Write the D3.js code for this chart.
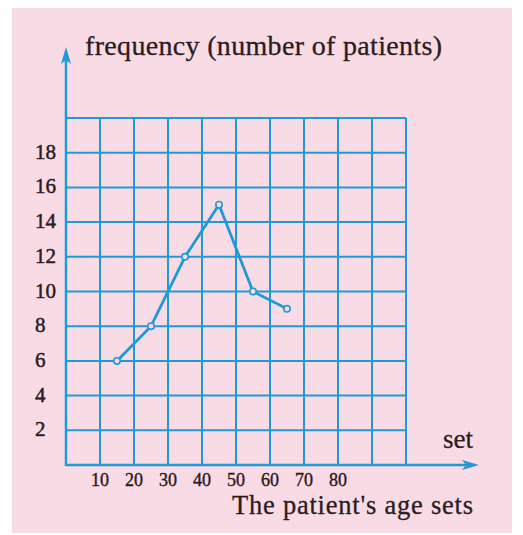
<!DOCTYPE html>
<html>
<head>
<meta charset="utf-8">
<script src="https://cdn.jsdelivr.net/npm/d3@7"></script>
<style>
  html, body { margin: 0; padding: 0; background: #ffffff; }
  svg { display: block; }
  text { font-family: "Liberation Serif", "Times New Roman", serif; fill: #2a1c20; }
</style>
</head>
<body>
<svg id="chart" width="523" height="535"></svg>
<script>
// Age-class midpoints (years) and number of patients in each class
const ageMidpoints = [15, 25, 35, 45, 55, 65];
const patients = [6, 8, 12, 15, 10, 9];

// Axis tick labels
const xTicks = [10, 20, 30, 40, 50, 60, 70, 80];
const yTicks = [2, 4, 6, 8, 10, 12, 14, 16, 18];

// Grid lines
const xGrid = [0, 10, 20, 30, 40, 50, 60, 70, 80, 90, 100];
const yGrid = [2, 4, 6, 8, 10, 12, 14, 16, 18, 20];

const blue = "#1f9ad6";
const ink = "#2a1c20";
const svg = d3.select("#chart");

// paper background
svg.append("rect")
  .attr("x", 12).attr("y", 8)
  .attr("width", 500).attr("height", 525)
  .attr("fill", "#f9dbe6");

const x = d3.scaleLinear().domain([0, 100]).range([66, 406]);
const y = d3.scaleLinear().domain([0, 20]).range([465, 118]);

// square grid
svg.append("g").selectAll("line").data(xGrid).join("line")
  .attr("x1", d => x(d)).attr("x2", d => x(d))
  .attr("y1", y(0)).attr("y2", y(20))
  .attr("stroke", blue).attr("stroke-width", 2);

svg.append("g").selectAll("line").data(yGrid).join("line")
  .attr("x1", x(0)).attr("x2", x(100))
  .attr("y1", d => y(d)).attr("y2", d => y(d))
  .attr("stroke", blue).attr("stroke-width", 2);

// axes with arrow heads
svg.append("line")
  .attr("x1", x(0)).attr("x2", x(0))
  .attr("y1", y(0) + 1).attr("y2", 60)
  .attr("stroke", blue).attr("stroke-width", 2.5);
svg.append("path")
  .attr("d", `M${x(0)},47 L${x(0) - 5},64 L${x(0)},60 L${x(0) + 5},64 Z`)
  .attr("fill", blue);

svg.append("line")
  .attr("x1", x(0) - 1).attr("x2", 466)
  .attr("y1", y(0)).attr("y2", y(0))
  .attr("stroke", blue).attr("stroke-width", 2.5);
svg.append("path")
  .attr("d", `M479,${y(0)} L462,${y(0) - 5} L466,${y(0)} L462,${y(0) + 5} Z`)
  .attr("fill", blue);

// y tick labels
svg.append("g").selectAll("text").data(yTicks).join("text")
  .attr("x", 35)
  .attr("y", d => y(d) + 6)
  .attr("font-size", 21)
  .attr("stroke", ink).attr("stroke-width", 0.5)
  .text(d => d);

// x tick labels
svg.append("g").selectAll("text").data(xTicks).join("text")
  .attr("x", d => x(d))
  .attr("y", 486)
  .attr("text-anchor", "middle")
  .attr("font-size", 18)
  .attr("stroke", ink).attr("stroke-width", 0.4)
  .text(d => d);

// titles
svg.append("text")
  .attr("x", 85).attr("y", 55)
  .attr("font-size", 28)
  .attr("textLength", 357)
  .attr("stroke", ink).attr("stroke-width", 0.3)
  .text("frequency (number of patients)");

svg.append("text")
  .attr("x", 443).attr("y", 448)
  .attr("font-size", 27)
  .attr("stroke", ink).attr("stroke-width", 0.3)
  .text("set");

svg.append("text")
  .attr("x", 232).attr("y", 514)
  .attr("font-size", 26.5)
  .attr("textLength", 241)
  .attr("stroke", ink).attr("stroke-width", 0.3)
  .text("The patient's age sets");

// frequency polygon
const pts = ageMidpoints.map((a, i) => [a, patients[i]]);
svg.append("path")
  .datum(pts)
  .attr("d", d3.line().x(d => x(d[0])).y(d => y(d[1])))
  .attr("fill", "none")
  .attr("stroke", blue)
  .attr("stroke-width", 2.8)
  .attr("stroke-linejoin", "round");

svg.append("g").selectAll("circle").data(pts).join("circle")
  .attr("cx", d => x(d[0])).attr("cy", d => y(d[1]))
  .attr("r", 3.2)
  .attr("fill", "#f9dbe6")
  .attr("stroke", blue)
  .attr("stroke-width", 1.6);
</script>
</body>
</html>
